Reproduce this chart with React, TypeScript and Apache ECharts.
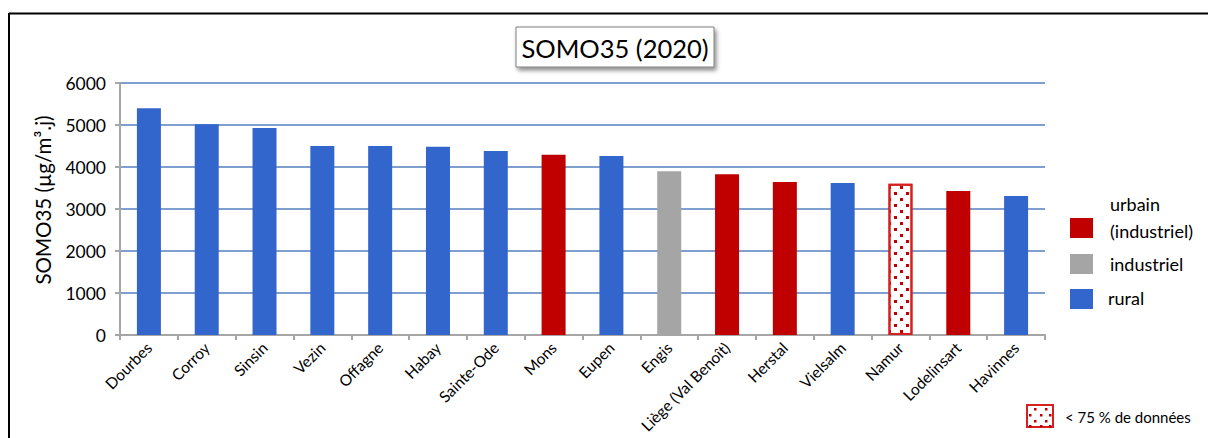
import React, { useEffect, useRef } from "react";
import * as echarts from "echarts";

const stations = [
  "Dourbes", "Corroy", "Sinsin", "Vezin", "Offagne", "Habay", "Sainte-Ode", "Mons",
  "Eupen", "Engis", "Liège (Val Benoît)", "Herstal", "Vielsalm", "Namur", "Lodelinsart", "Havinnes",
];
const somo35 = [5400, 5020, 4930, 4500, 4500, 4480, 4380, 4290, 4260, 3900, 3830, 3640, 3620, 3600, 3430, 3310];
const stationTypes = [
  "rural", "rural", "rural", "rural", "rural", "rural", "rural", "urbain",
  "rural", "industriel", "urbain", "urbain", "rural", "urbain", "urbain", "rural",
];
const incomplete = [false, false, false, false, false, false, false, false, false, false, false, false, false, true, false, false];
const typeKeys = ["urbain", "industriel", "rural"];
const typeLabels = ["urbain\n(industriel)", "industriel", "rural"];
const yTicks = [0, 1000, 2000, 3000, 4000, 5000, 6000];
const title = "SOMO35 (2020)";
const yName = "SOMO35 (µg/m³.j)";
const incompleteLabel = "< 75 % de données";

const typeColors: Record<string, string> = { urbain: "#c00000", industriel: "#a5a5a5", rural: "#3366cc" };
const FONT = "Lato, 'Open Sans', sans-serif";

const dotDecal = {
  symbol: "rect",
  symbolSize: 1,
  color: "#c00000",
  backgroundColor: "#ffffff",
  dashArrayX: [[3, 8.5], [0, 5.75, 3, 2.75]],
  dashArrayY: [3, 3],
  rotation: 0,
};

export default function App() {
  const ref = useRef<HTMLDivElement>(null);
  useEffect(() => {
    if (!ref.current) return;
    const chart = echarts.init(ref.current, null, { renderer: "svg" });
    const data = somo35.map((v, i) => {
      const c = typeColors[stationTypes[i]];
      if (incomplete[i]) {
        return {
          value: v,
          itemStyle: { color: "#ffffff", borderColor: "#d42020", borderWidth: 2, decal: dotDecal },
        };
      }
      return { value: v, itemStyle: { color: c } };
    });

    const legendGraphics: any[] = [];
    const legendY = [218, 254, 289];
    const legendTextY = [217, 264, 298];
    typeKeys.forEach((k, i) => {
      legendGraphics.push({
        type: "rect",
        shape: { x: 1070, y: legendY[i], width: 23, height: 20 },
        style: { fill: typeColors[k] },
      });
      legendGraphics.push({
        type: "text",
        x: i === 2 ? 1108 : 1110,
        y: legendTextY[i],
        style: {
          text: typeLabels[i],
          font: `18px ${FONT}`,
          fill: "#000",
          textVerticalAlign: "middle",
          lineHeight: 27,
        },
      });
    });

    // dotted swatch for the "< 75 %" legend
    const sw = { x: 1027, y: 405, w: 26, h: 22 };
    const dotOffsets = [
      [7, 3], [18, 3],
      [2, 9], [13, 9], [22, 9],
      [7, 15], [18, 15],
      [2, 20], [13, 20], [22, 20],
    ];
    const swatchDots = dotOffsets.map(([dx, dy]) => ({
      type: "rect",
      shape: { x: sw.x + dx, y: sw.y + dy, width: 2.5, height: 2.5 },
      style: { fill: "#c00000" },
    }));

    chart.setOption({
      animation: false,
      grid: { left: 120, right: 163, top: 83, bottom: 103, containLabel: false },
      xAxis: {
        type: "category",
        data: stations,
        axisLine: { lineStyle: { color: "#a6a6a6", width: 2 } },
        axisTick: { show: true, length: 5, lineStyle: { color: "#a6a6a6", width: 2 } },
        axisLabel: {
          rotate: 45,
          interval: 0,
          fontSize: 15.5,
          fontFamily: FONT,
          color: "#000",
          margin: 10,
        },
      },
      yAxis: {
        type: "value",
        min: 0,
        max: 6000,
        interval: 1000,
        axisLine: { show: true, lineStyle: { color: "#a6a6a6", width: 2 } },
        axisTick: { show: true, length: 5, lineStyle: { color: "#a6a6a6", width: 2 } },
        axisLabel: { fontSize: 17.5, fontFamily: FONT, color: "#000", margin: 14,
          formatter: (v: number) => (yTicks.includes(v) ? String(v) : "") },
        splitLine: { lineStyle: { color: "#7f9fcf", width: 2 } },
      },
      series: [
        {
          type: "bar",
          data,
          barWidth: 24,
        },
      ],
      graphic: [
        { type: "line", shape: { x1: 9, y1: 13.5, x2: 1208, y2: 13.5 }, style: { stroke: "#000", lineWidth: 2 } },
        { type: "line", shape: { x1: 9, y1: 13, x2: 9, y2: 438 }, style: { stroke: "#000", lineWidth: 2 } },
        {
          type: "text",
          x: 43,
          y: 200,
          rotation: Math.PI / 2,
          style: { text: yName, font: `20.5px ${FONT}`, fill: "#000", textAlign: "center", textVerticalAlign: "middle" },
        },
        {
          type: "rect",
          shape: { x: 516, y: 27, width: 198, height: 40 },
          style: { fill: "#fff", stroke: "#7f7f7f", lineWidth: 1, shadowBlur: 4, shadowOffsetX: 2, shadowOffsetY: 3, shadowColor: "rgba(0,0,0,0.45)" },
        },
        {
          type: "text",
          x: 615,
          y: 48,
          style: { text: title, font: `25.5px ${FONT}`, fill: "#000", textAlign: "center", textVerticalAlign: "middle" },
        },
        ...legendGraphics,
        {
          type: "rect",
          shape: { x: sw.x, y: sw.y, width: sw.w, height: sw.h },
          style: { fill: "#fff", stroke: "#d42020", lineWidth: 2 },
        },
        ...swatchDots,
        {
          type: "text",
          x: 1065,
          y: 417,
          style: { text: incompleteLabel, font: `15px ${FONT}`, fill: "#000", textVerticalAlign: "middle" },
        },
      ],
    });
    return () => chart.dispose();
  }, []);
  return (
    <div
      ref={ref}
      style={{ position: "fixed", left: 0, top: 0, width: 1208, height: 438, background: "#fff" }}
    />
  );
}
